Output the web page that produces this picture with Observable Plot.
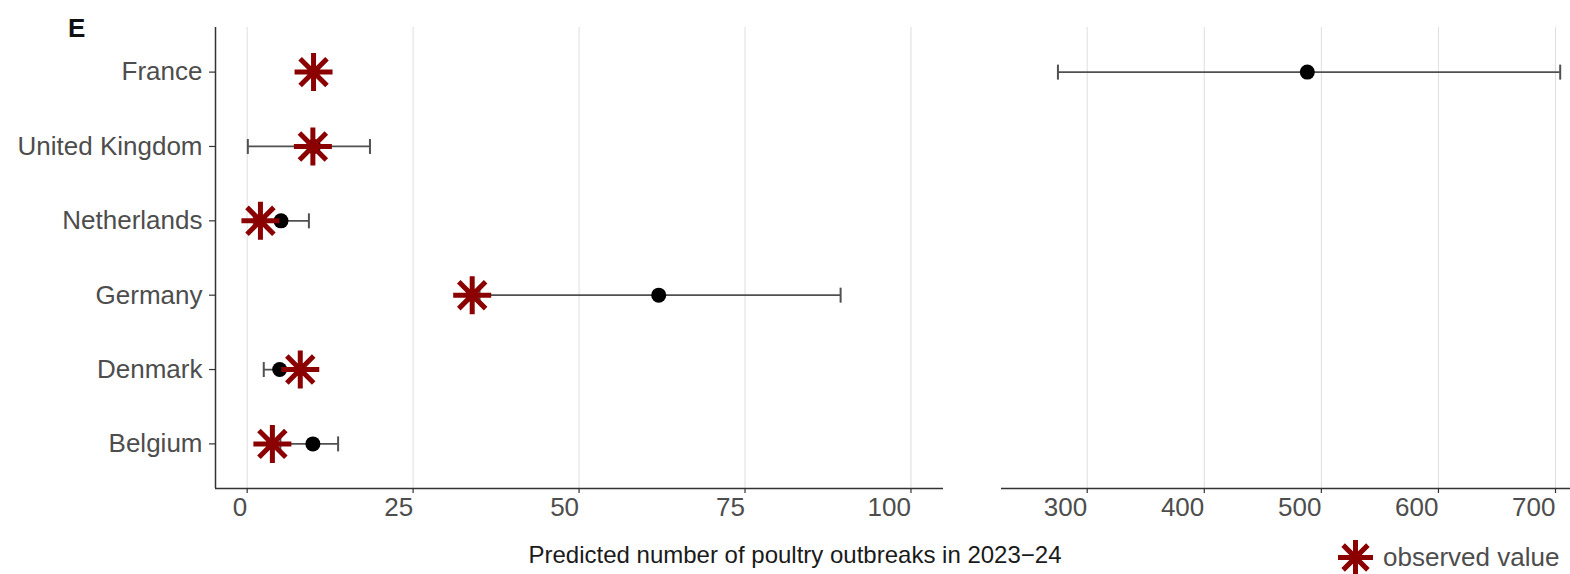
<!DOCTYPE html>
<html><head><meta charset="utf-8">
<script src="https://cdn.jsdelivr.net/npm/d3@7"></script>
<script src="https://cdn.jsdelivr.net/npm/@observablehq/plot@0.6"></script>
<style>
body{margin:0;background:#fff;font-family:"Liberation Sans",Arial,sans-serif;}
#wrap{position:relative;width:1570px;height:574px;overflow:hidden;background:#fff;}
#wrap > .abs{position:absolute;line-height:1;white-space:nowrap;}
#left{left:0;top:0;}
#right{left:960px;top:0;}
#tag{left:68px;top:15px;font-weight:bold;font-size:26px;color:#111;}
#xtitle{left:795px;top:543px;font-size:24px;color:#1a1a1a;transform:translateX(-50%);}
#legend{left:1334px;top:536px;display:flex;align-items:center;}
#legend span{font-size:26px;color:#4d4d4d;margin-left:7px;}
</style></head><body>
<div id="wrap">
  <div class="abs" id="left"></div>
  <div class="abs" id="right"></div>
  <div class="abs" id="tag"></div>
  <div class="abs" id="xtitle"></div>
  <div class="abs" id="legend"></div>
</div>
<script>
// ---- data ----
const countries = ["France", "United Kingdom", "Netherlands", "Germany", "Denmark", "Belgium"];
const predicted = [488, 10, 5.1, 62, 4.9, 9.9];
const lower     = [275, 0.1, 1, 35, 2.5, 5];
const upper     = [704, 18.5, 9.3, 89.4, 8, 13.7];
const observed  = [10, 9.9, 2.0, 33.9, 8.0, 3.8];
const leftTicks  = [0, 25, 50, 75, 100];
const rightTicks = [300, 400, 500, 600, 700];
const panelTag = "E";
const xTitle = "Predicted number of poultry outbreaks in 2023\u221224";
const legendLabel = "observed value";

// ---- derived table ----
const rows = countries.map((c, i) => ({i, country: c, predicted: predicted[i], lower: lower[i], upper: upper[i], observed: observed[i]}));
const BREAK = 150;
const leftRows = rows.filter(d => d.upper < BREAK);
const rightRows = rows.filter(d => d.upper >= BREAK);

const leftDomain = [-4.77, 104.9];
const rightDomain = [226.8, 712.8];
const yDomain = [countries.length - 1 + 0.6, -0.6];

// symbols
const asterisk8 = {draw(ctx, size) {
  const r = Math.sqrt(size / Math.PI), d = r * Math.SQRT1_2;
  ctx.moveTo(-r, 0); ctx.lineTo(r, 0);
  ctx.moveTo(0, -r); ctx.lineTo(0, r);
  ctx.moveTo(-d, -d); ctx.lineTo(d, d);
  ctx.moveTo(-d, d); ctx.lineTo(d, -d);
}};
const capSymbol = {draw(ctx, size) {
  const r = Math.sqrt(size / Math.PI);
  ctx.moveTo(0, -r); ctx.lineTo(0, r);
}};

const FONT = "'Liberation Sans', Arial, sans-serif";
const RED = "#8b0000";
const BAR = "#505050";
const AXIS = "#333";
const GRID = "#dedede";
const H = 540, MT = 27, MB = 52;

function errorMarks(data) {
  return [
    Plot.ruleY(data, {y: "i", x1: "lower", x2: "upper", stroke: BAR, strokeWidth: 1.8}),
    Plot.dot(data, {x: "lower", y: "i", symbol: capSymbol, r: 7.5, stroke: BAR, strokeWidth: 2, fill: "none"}),
    Plot.dot(data, {x: "upper", y: "i", symbol: capSymbol, r: 7.5, stroke: BAR, strokeWidth: 2, fill: "none"}),
    Plot.dot(data, {x: "predicted", y: "i", r: 7.5, fill: "#000", stroke: "none"})
  ];
}

const left = Plot.plot({
  width: 960, height: H, marginLeft: 215, marginRight: 17, marginTop: MT, marginBottom: MB,
  style: {fontFamily: FONT, fontSize: "26px", background: "transparent", color: "#4d4d4d"},
  x: {domain: leftDomain},
  y: {domain: yDomain},
  marks: [
    Plot.gridX(leftTicks, {stroke: GRID, strokeOpacity: 1, strokeWidth: 1}),
    Plot.axisX(leftTicks, {tickSize: 5, tickPadding: 4, textAnchor: "end", label: null, stroke: AXIS, strokeWidth: 1.2, fill: "#4d4d4d"}),
    Plot.axisY(d3.range(countries.length), {tickSize: 6, tickPadding: 7, label: null, tickFormat: i => countries[i], stroke: AXIS, strokeWidth: 1.2, fill: "#4d4d4d"}),
    Plot.ruleX([leftDomain[0]], {stroke: AXIS, strokeWidth: 1.5}),
    Plot.ruleY([yDomain[0]], {stroke: AXIS, strokeWidth: 1.5}),
    ...errorMarks(leftRows),
    Plot.dot(rows, {x: "observed", y: "i", symbol: asterisk8, r: 19, stroke: RED, strokeWidth: 5, fill: "none"})
  ]
});
document.getElementById("left").appendChild(left);

const right = Plot.plot({
  width: 610, height: H, marginLeft: 41, marginRight: 0, marginTop: MT, marginBottom: MB,
  style: {fontFamily: FONT, fontSize: "26px", background: "transparent", color: "#4d4d4d"},
  x: {domain: rightDomain},
  y: {domain: yDomain, axis: null},
  marks: [
    Plot.gridX(rightTicks, {stroke: GRID, strokeOpacity: 1, strokeWidth: 1}),
    Plot.axisX(rightTicks, {tickSize: 5, tickPadding: 4, textAnchor: "end", label: null, stroke: AXIS, strokeWidth: 1.2, fill: "#4d4d4d"}),
    Plot.ruleY([yDomain[0]], {stroke: AXIS, strokeWidth: 1.5}),
    ...errorMarks(rightRows)
  ]
});
document.getElementById("right").appendChild(right);

document.getElementById("tag").textContent = panelTag;
document.getElementById("xtitle").textContent = xTitle;

const legendSym = Plot.plot({
  width: 42, height: 42, margin: 0,
  x: {domain: [-1, 1], axis: null}, y: {domain: [-1, 1], axis: null},
  style: {background: "transparent"},
  marks: [Plot.dot([0], {x: 0, y: 0, symbol: asterisk8, r: 17.5, stroke: RED, strokeWidth: 5, fill: "none"})]
});
const lg = document.getElementById("legend");
lg.appendChild(legendSym);
const sp = document.createElement("span");
sp.textContent = legendLabel;
lg.appendChild(sp);
</script>
</body></html>
